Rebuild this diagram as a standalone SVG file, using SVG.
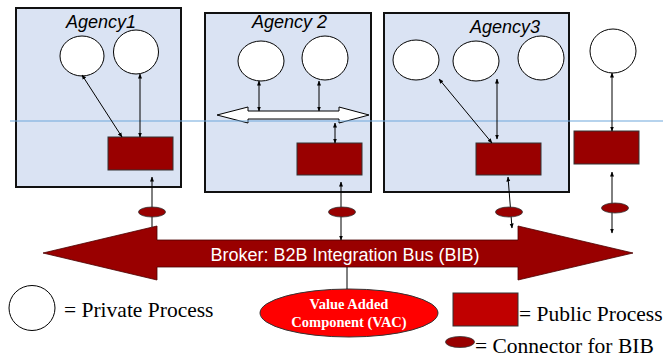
<svg xmlns="http://www.w3.org/2000/svg" width="663" height="358" viewBox="0 0 663 358">
<defs>
<marker id="ah" viewBox="0 0 10 10" refX="9" refY="5" markerWidth="5" markerHeight="5" orient="auto-start-reverse" markerUnits="userSpaceOnUse">
<path d="M0,1 L10,5 L0,9 z" fill="#000"/>
</marker>
<style>
.agency{fill:#dae3f3;stroke:#111;stroke-width:2}
.title{font-family:"Liberation Sans",Arial,sans-serif;font-style:italic;font-size:18px;fill:#000}
.priv{fill:#fff;stroke:#000;stroke-width:1}
.pub{fill:#990000;stroke:#333;stroke-width:1}
.conn{fill:#990000;stroke:#333;stroke-width:0.8}
.link{stroke:#000;stroke-width:1;fill:none;marker-end:url(#ah)}
.dbl{stroke:#000;stroke-width:1;fill:none;marker-start:url(#ah);marker-end:url(#ah)}
.leg{font-family:"Liberation Serif","Times New Roman",serif;font-size:21.5px;fill:#000}
.vac{font-family:"Liberation Serif","Times New Roman",serif;font-weight:bold;font-size:14.5px;fill:#fff}
</style>
</defs>
<rect width="663" height="358" fill="#fff"/>

<g id="agency1">
<rect class="agency" x="16" y="8" width="165" height="179"/>
<text class="title" x="101" y="28" text-anchor="middle">Agency1</text>
<ellipse class="priv" cx="82" cy="56" rx="22" ry="20"/>
<ellipse class="priv" cx="136" cy="52" rx="22.5" ry="22"/>
<rect class="pub" x="108" y="137" width="65" height="33"/>
</g>

<g id="agency2">
<rect class="agency" x="205" y="13" width="166" height="179"/>
<text class="title" x="289.5" y="28" text-anchor="middle">Agency 2</text>
<ellipse class="priv" cx="261" cy="61" rx="23" ry="20"/>
<ellipse class="priv" cx="325" cy="58" rx="23" ry="22"/>
<path d="M217,115 L248,107 L248,111 L339,111 L339,107 L369,115 L339,123 L339,119 L248,119 L248,123 Z" fill="#fff" stroke="#000" stroke-width="1"/>
<rect class="pub" x="297" y="143" width="65" height="32"/>
</g>

<g id="agency3">
<rect class="agency" x="384" y="13" width="185" height="179"/>
<text class="title" x="505" y="33" text-anchor="middle">Agency3</text>
<ellipse class="priv" cx="416" cy="60" rx="23" ry="20"/>
<ellipse class="priv" cx="476" cy="61" rx="23" ry="20"/>
<ellipse class="priv" cx="541" cy="58" rx="23" ry="22"/>
<rect class="pub" x="476" y="143" width="65" height="32"/>
</g>

<g id="outside">
<ellipse class="priv" cx="613" cy="51" rx="23" ry="22"/>
<rect class="pub" x="574" y="131" width="65" height="33"/>
</g>

<line x1="10" y1="121" x2="663" y2="121" stroke="#6fa8dc" stroke-width="1.2"/>

<g id="bus">
<path d="M43,253 L157,226 L157,240 L518,240 L518,226 L633,253 L518,280 L518,267 L157,267 L157,280 Z" fill="#990000" stroke="#4a0000" stroke-width="0.8"/>
<text x="345" y="261" text-anchor="middle" font-family="'Liberation Sans',Arial,sans-serif" font-size="18" fill="#fff">Broker: B2B Integration Bus (BIB)</text>
</g>

<g id="vac">
<ellipse cx="349" cy="313" rx="89" ry="24" fill="#ff0000" stroke="#333" stroke-width="1"/>
<text class="vac" x="349" y="309" text-anchor="middle">Value Added</text>
<text class="vac" x="349" y="327" text-anchor="middle">Component (VAC)</text>
</g>

<g id="connectors">
<line class="dbl" x1="82" y1="75" x2="122" y2="137"/>
<line class="dbl" x1="140" y1="74" x2="140" y2="137"/>
<line class="link" x1="152" y1="227" x2="152" y2="177"/>
<line class="dbl" x1="259" y1="81" x2="259" y2="111"/>
<line class="dbl" x1="319" y1="81" x2="319" y2="111"/>
<line class="dbl" x1="335" y1="123" x2="335" y2="143"/>
<line class="dbl" x1="341" y1="182" x2="341" y2="240"/>
<line class="dbl" x1="439" y1="79" x2="492" y2="143"/>
<line class="dbl" x1="497" y1="79" x2="497" y2="139"/>
<line class="dbl" x1="508" y1="177" x2="512" y2="228"/>
<line class="dbl" x1="612" y1="73" x2="612" y2="131"/>
<line class="dbl" x1="612" y1="172" x2="612" y2="233"/>
<line x1="347" y1="267" x2="347" y2="289" stroke="#000" stroke-width="1"/>
<ellipse class="conn" cx="152" cy="212" rx="13.5" ry="5"/>
<ellipse class="conn" cx="342" cy="212" rx="13.5" ry="5"/>
<ellipse class="conn" cx="509" cy="212" rx="13.5" ry="5"/>
<ellipse class="conn" cx="615" cy="208" rx="13.5" ry="5"/>
</g>

<g id="legend">
<ellipse class="priv" cx="32" cy="308" rx="23" ry="22.5"/>
<text class="leg" x="64" y="317">= Private Process</text>
<rect x="453" y="293" width="65" height="33" fill="#c00000" stroke="#333" stroke-width="1"/>
<text class="leg" x="519" y="321">= Public Process</text>
<ellipse class="conn" cx="460" cy="342" rx="14.5" ry="5.5"/>
<text class="leg" x="475" y="353">= Connector for BIB</text>
</g>
</svg>
